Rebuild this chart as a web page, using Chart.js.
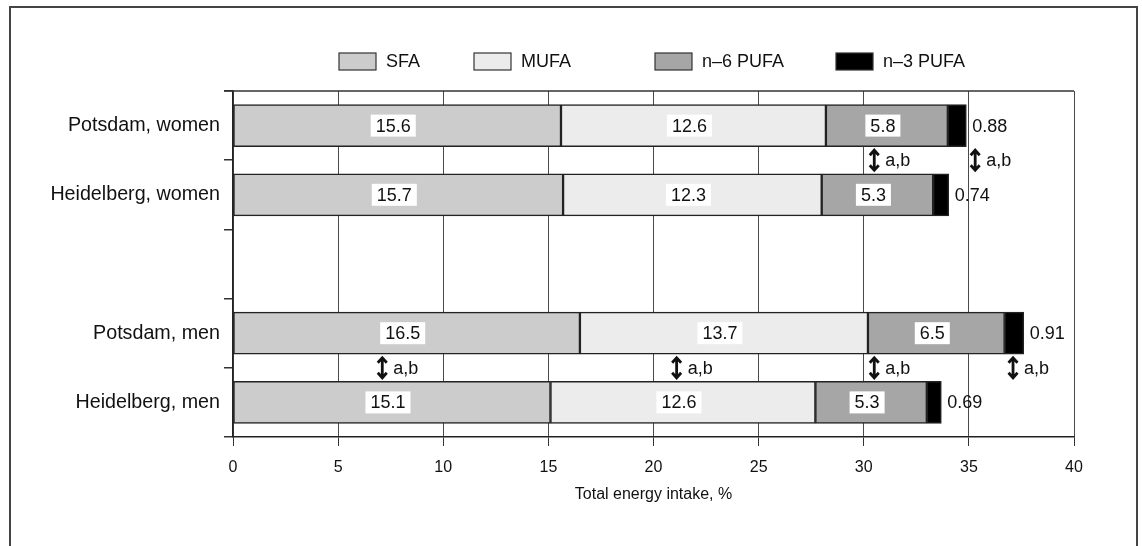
<!DOCTYPE html>
<html>
<head>
<meta charset="utf-8">
<script src="https://cdn.jsdelivr.net/npm/chart.js@4.4.1/dist/chart.umd.min.js"></script>
<style>
  body { margin: 0; background: #fff; }
  #wrap { width: 1142px; height: 546px; }
</style>
</head>
<body>
<div id="wrap"><canvas id="fatChart" width="1142" height="546"></canvas></div>
<script>
// rows (empty one is the gap between women and men)
const groups = ['Potsdam, women', 'Heidelberg, women', '', 'Potsdam, men', 'Heidelberg, men'];
const sfa    = [15.6, 15.7, null, 16.5, 15.1];
const mufa   = [12.6, 12.3, null, 13.7, 12.6];
const n6pufa = [5.8, 5.3, null, 6.5, 5.3];
const n3pufa = [0.88, 0.74, null, 0.91, 0.69];
const seriesNames = ['SFA', 'MUFA', 'n\u20136 PUFA', 'n\u20133 PUFA'];
const xTicks = [0, 5, 10, 15, 20, 25, 30, 35, 40];
// "a,b" marks: [row above the mark, x value]
const sigMarks = [[0, 30.5], [0, 35.3], [3, 7.1], [3, 21.1], [3, 30.5], [3, 37.1]];

const FONT = '"Liberation Sans", Arial, sans-serif';
const fills = ['#cccccc', '#ececec', '#a6a6a6', '#000000'];

const frame = {
  id: 'frame',
  beforeDraw(chart) {
    const c = chart.ctx;
    c.save();
    c.fillStyle = '#fff';
    c.fillRect(0, 0, chart.width, chart.height);
    c.strokeStyle = '#444';
    c.lineWidth = 2;
    c.strokeRect(10, 7, 1127, 600);
    c.restore();
  },
  afterDraw(chart) {
    const c = chart.ctx, a = chart.chartArea;
    c.save();
    c.strokeStyle = '#333';
    c.lineWidth = 1.5;
    c.beginPath();
    c.moveTo(a.left - 9, a.top);
    c.lineTo(a.right, a.top);
    c.stroke();
    c.restore();
  }
};

const legendBoxes = {
  id: 'legendBoxes',
  afterDraw(chart) {
    const c = chart.ctx;
    const xs = [339, 474, 655, 836];
    c.save();
    c.font = '18px ' + FONT;
    c.textBaseline = 'middle';
    c.textAlign = 'left';
    chart.data.datasets.forEach((ds, i) => {
      c.fillStyle = ds.backgroundColor;
      c.fillRect(xs[i], 53, 37, 17);
      c.strokeStyle = '#333';
      c.lineWidth = 1.2;
      c.strokeRect(xs[i], 53, 37, 17);
      c.fillStyle = '#111';
      c.fillText(ds.label, xs[i] + 47, 62);
    });
    c.restore();
  }
};

const valueLabels = {
  id: 'valueLabels',
  afterDatasetsDraw(chart) {
    const c = chart.ctx;
    c.save();
    c.font = '18px ' + FONT;
    c.textBaseline = 'middle';
    chart.data.datasets.forEach((ds, di) => {
      const meta = chart.getDatasetMeta(di);
      meta.data.forEach((bar, i) => {
        const v = ds.data[i];
        if (v === null) return;
        const txt = String(v);
        if (di < 3) {
          const cx = (bar.x + bar.base) / 2 - 4;
          const w = c.measureText(txt).width + 10;
          c.fillStyle = '#fff';
          c.fillRect(cx - w / 2, bar.y - 11, w, 22);
          c.fillStyle = '#111';
          c.textAlign = 'center';
          c.fillText(txt, cx, bar.y + 1);
        } else {
          c.fillStyle = '#111';
          c.textAlign = 'left';
          c.fillText(txt, bar.x + 6, bar.y + 1);
        }
      });
    });

    // significance arrows
    const xs = chart.scales.x, ys = chart.scales.y;
    sigMarks.forEach(([row, xv]) => {
      const y = (ys.getPixelForValue(row) + ys.getPixelForValue(row + 1)) / 2;
      const x = xs.getPixelForValue(xv);
      c.strokeStyle = '#111';
      c.lineWidth = 2.8;
      c.beginPath();
      c.moveTo(x, y - 9);
      c.lineTo(x, y + 9);
      c.moveTo(x - 4.5, y - 5);
      c.lineTo(x, y - 10);
      c.lineTo(x + 4.5, y - 5);
      c.moveTo(x - 4.5, y + 5);
      c.lineTo(x, y + 10);
      c.lineTo(x + 4.5, y + 5);
      c.stroke();
      c.fillStyle = '#111';
      c.textAlign = 'left';
      c.fillText('a,b', x + 11, y + 1);
    });
    c.restore();
  }
};

const seriesData = [sfa, mufa, n6pufa, n3pufa];

new Chart(document.getElementById('fatChart'), {
  type: 'bar',
  data: {
    labels: groups,
    datasets: seriesData.map((d, i) => ({
      label: seriesNames[i],
      data: d,
      backgroundColor: fills[i],
      borderColor: '#222',
      borderWidth: 1.5,
      borderSkipped: false,
      barThickness: 42
    }))
  },
  options: {
    indexAxis: 'y',
    responsive: false,
    animation: false,
    layout: { padding: { left: 0, right: 68, top: 91, bottom: 0 } },
    plugins: {
      legend: { display: false },
      tooltip: { enabled: false }
    },
    scales: {
      x: {
        stacked: true,
        min: 0,
        max: 40,
        afterBuildTicks: s => { s.ticks = xTicks.map(v => ({ value: v })); },
        afterFit: s => { s.height = 109; },
        border: { color: '#222', width: 1.5 },
        grid: { color: '#4a4a4a', lineWidth: 1, tickLength: 9, tickColor: '#333' },
        ticks: { color: '#111', padding: 12, font: { family: FONT, size: 16 } },
        title: {
          display: true,
          text: 'Total energy intake, %',
          color: '#111',
          font: { family: FONT, size: 16 },
          padding: { top: 0, bottom: 42 }
        }
      },
      y: {
        stacked: true,
        offset: true,
        afterFit: s => { s.width = 233; },
        border: { color: '#222', width: 1.5 },
        grid: { offset: true, drawOnChartArea: false, tickLength: 9, color: '#333', lineWidth: 1.5 },
        ticks: { color: '#111', padding: 4, font: { family: FONT, size: 19.7 } }
      }
    }
  },
  plugins: [frame, legendBoxes, valueLabels]
});
</script>
</body>
</html>
